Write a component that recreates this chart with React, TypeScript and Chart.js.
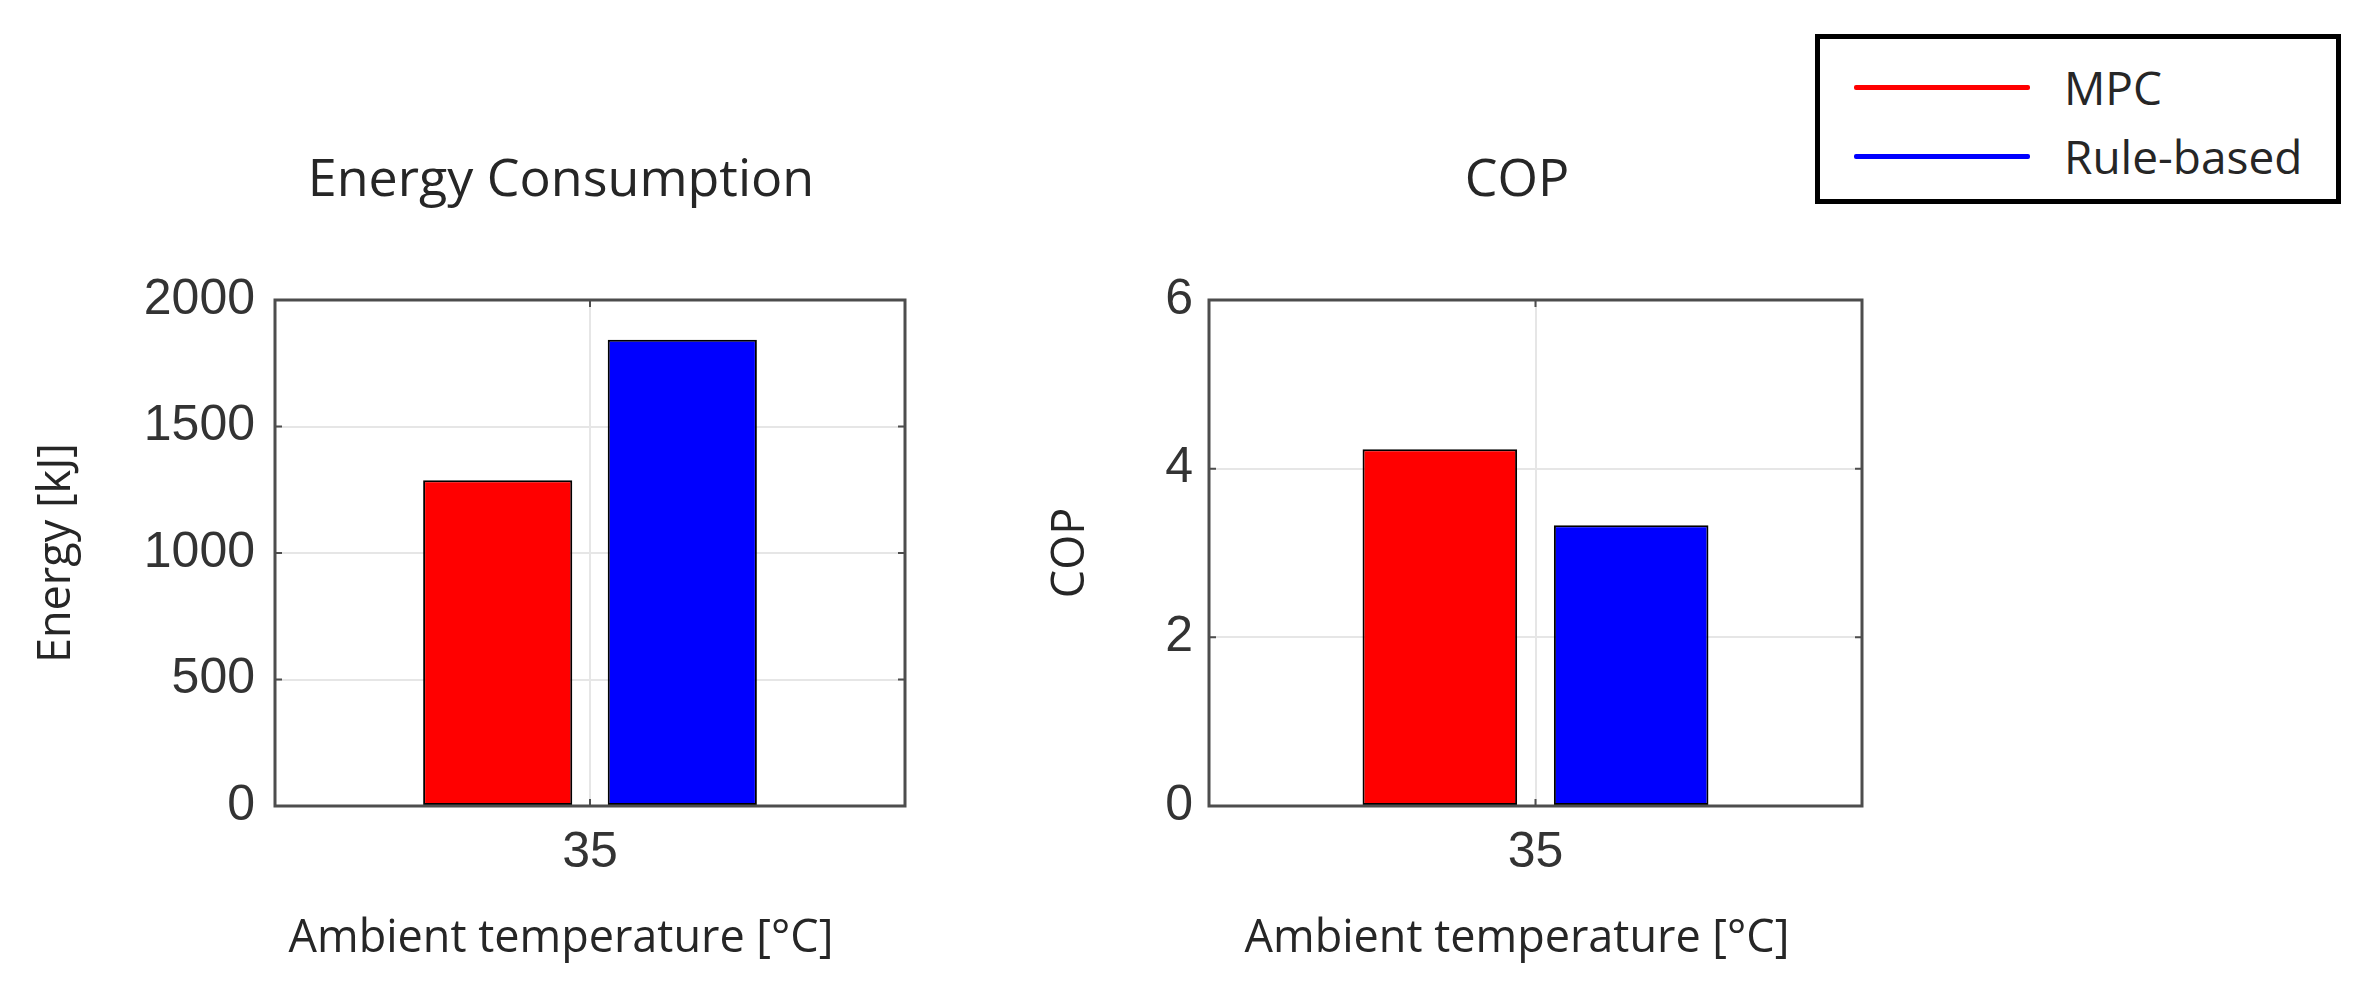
import { useEffect, useRef } from "react"
import { Chart, registerables } from "chart.js"

Chart.register(...registerables)

const categories = ["35"]
const seriesNames = ["MPC", "Rule-based"]
const seriesColors = ["#ff0000", "#0000ff"]
const energyMpc = [1288]
const energyRule = [1843]
const copMpc = [4.23]
const copRule = [3.33]
const energyTicks = [0, 500, 1000, 1500, 2000]
const copTicks = [0, 2, 4, 6]

const textColor = "#262626"
const titleFont = "'Open Sans', 'Noto Sans', sans-serif"
const tickFont = "'Liberation Sans', Arial, sans-serif"

// MATLAB style box with small inward tick marks
const framePlugin = {
  id: "frame",
  afterDatasetsDraw(chart: any) {
    const { ctx, chartArea: a, scales } = chart
    ctx.save()
    ctx.strokeStyle = "#4d4d4d"
    ctx.lineWidth = 2
    ctx.beginPath()
    scales.y.ticks.forEach((t: any) => {
      const py = scales.y.getPixelForValue(t.value)
      ctx.moveTo(a.left, py)
      ctx.lineTo(a.left + 7, py)
      ctx.moveTo(a.right, py)
      ctx.lineTo(a.right - 7, py)
    })
    scales.x.ticks.forEach((_t: any, i: number) => {
      const px = scales.x.getPixelForTick(i)
      ctx.moveTo(px, a.bottom)
      ctx.lineTo(px, a.bottom - 7)
      ctx.moveTo(px, a.top)
      ctx.lineTo(px, a.top + 7)
    })
    ctx.stroke()
    ctx.lineWidth = 3
    ctx.strokeRect(a.left, a.top, a.right - a.left, a.bottom - a.top)
    ctx.restore()
  },
}

interface PanelProps {
  left: number
  width: number
  yAxisWidth: number
  rightPad: number
  yTitlePad: number
  tickPad: number
  title: string
  yTitle: string
  mpc: number[]
  rule: number[]
  ticks: number[]
}

function BarPanel(p: PanelProps) {
  const chartRef = useRef<HTMLCanvasElement | null>(null)
  const chartInstance = useRef<Chart | null>(null)

  useEffect(() => {
    if (!chartRef.current) return
    if (chartInstance.current) chartInstance.current.destroy()

    const step = p.ticks[1] - p.ticks[0]

    chartInstance.current = new Chart(chartRef.current, {
      type: "bar",
      data: {
        labels: categories,
        datasets: [p.mpc, p.rule].map((values, i) => ({
          label: seriesNames[i],
          data: values,
          backgroundColor: seriesColors[i],
          borderColor: "#000000",
          borderWidth: 2,
          borderSkipped: false,
          categoryPercentage: 0.586,
          barPercentage: 0.808,
        })),
      },
      options: {
        responsive: true,
        maintainAspectRatio: false,
        animation: false,
        layout: { padding: 0 },
        plugins: {
          legend: { display: false },
          tooltip: { enabled: false },
          title: {
            display: true,
            text: p.title,
            color: textColor,
            font: { family: titleFont, size: 52, weight: "normal", lineHeight: 1.2 },
            padding: { top: 150, bottom: 87.6 },
          },
          subtitle: {
            display: true,
            position: "bottom",
            text: "Ambient temperature [°C]",
            color: textColor,
            font: { family: titleFont, size: 45, weight: "normal", lineHeight: 1.2 },
            padding: { top: 0, bottom: 21 },
          },
        },
        scales: {
          x: {
            offset: true,
            grid: { color: "#e6e6e6", lineWidth: 2, offset: false, drawTicks: false },
            border: { display: false },
            ticks: {
              color: "#333333",
              padding: 17,
              font: { family: tickFont, size: 50, lineHeight: 1.2 },
            },
            afterFit: (s: any) => {
              s.height = 106
            },
          },
          y: {
            min: p.ticks[0],
            max: p.ticks[p.ticks.length - 1],
            grid: { color: "#e6e6e6", lineWidth: 2, drawTicks: false },
            border: { display: false },
            ticks: {
              stepSize: step,
              color: "#333333",
              padding: p.tickPad,
              font: { family: tickFont, size: 50, lineHeight: 1.2 },
              callback: (v: any) => String(v),
            },
            title: {
              display: true,
              text: p.yTitle,
              color: textColor,
              font: { family: titleFont, size: 45, weight: "normal", lineHeight: 1.2 },
              padding: { top: p.yTitlePad, bottom: 0 },
            },
            afterFit: (s: any) => {
              s.width = p.yAxisWidth
            },
          },
          // empty axis on the right so the titles centre like the original
          spacer: {
            type: "linear",
            position: "right",
            display: true,
            grid: { display: false, drawTicks: false },
            border: { display: false },
            ticks: { display: false },
            afterFit: (s: any) => {
              s.width = p.rightPad
            },
          },
        },
      } as any,
      plugins: [framePlugin],
    })

    return () => {
      if (chartInstance.current) {
        chartInstance.current.destroy()
        chartInstance.current = null
      }
    }
  }, [])

  return (
    <div style={{ position: "absolute", left: p.left, top: 0, width: p.width, height: 987 }}>
      <canvas ref={chartRef} />
    </div>
  )
}

function Legend() {
  const boxTop = 34
  const border = 5
  const rowCenters = [87, 156]
  return (
    <div
      style={{
        position: "absolute",
        left: 1815,
        top: boxTop,
        width: 526,
        height: 170,
        border: `${border}px solid #000`,
        boxSizing: "border-box",
        background: "#fff",
        zIndex: 2,
      }}
    >
      {seriesNames.map((name, i) => (
        <div
          key={name}
          style={{
            position: "absolute",
            left: 34,
            top: rowCenters[i] - boxTop - border - 30,
            height: 60,
            display: "flex",
            alignItems: "center",
          }}
        >
          <div style={{ width: 176, height: 5, background: seriesColors[i], borderRadius: 2 }} />
          <span
            style={{
              marginLeft: 34,
              fontFamily: titleFont,
              fontSize: 46,
              lineHeight: "60px",
              color: textColor,
              whiteSpace: "nowrap",
            }}
          >
            {name}
          </span>
        </div>
      ))}
    </div>
  )
}

export default function App() {
  useEffect(() => {
    document.body.style.margin = "0"
    document.body.style.background = "#ffffff"
  }, [])

  return (
    <div style={{ position: "relative", width: 2370, height: 987, background: "#fff", overflow: "hidden" }}>
      <BarPanel
        left={0}
        width={1122}
        yAxisWidth={275}
        rightPad={217}
        yTitlePad={30}
        tickPad={20}
        title="Energy Consumption"
        yTitle="Energy [kJ]"
        mpc={energyMpc}
        rule={energyRule}
        ticks={energyTicks}
      />
      <BarPanel
        left={1000}
        width={1034}
        yAxisWidth={209}
        rightPad={172}
        yTitlePad={44}
        tickPad={16}
        title="COP"
        yTitle="COP"
        mpc={copMpc}
        rule={copRule}
        ticks={copTicks}
      />
      <Legend />
    </div>
  )
}
